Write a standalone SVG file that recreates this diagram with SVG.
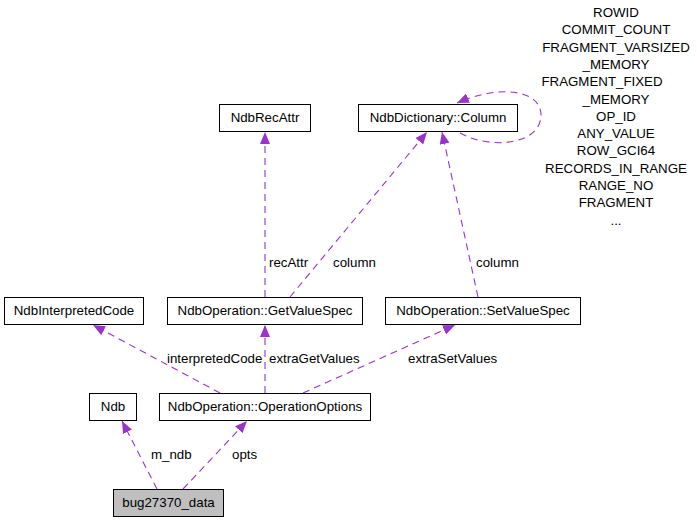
<svg xmlns="http://www.w3.org/2000/svg" width="697" height="523" viewBox="0 0 697 523">
<style>
text{font-family:"Liberation Sans",Arial,sans-serif;font-size:13.3px;fill:#000}
.n rect{fill:#fff;stroke:#000;stroke-width:1}
.n text{text-anchor:middle}
.e path{fill:none;stroke:#9a32cd;stroke-width:1.1;stroke-dasharray:7,5;marker-end:url(#ah)}
.lst{text-anchor:middle}
</style>
<defs>
<marker id="ah" markerUnits="userSpaceOnUse" viewBox="0 0 12 10" refX="12" refY="5" markerWidth="12" markerHeight="10" orient="auto">
<path d="M0,0 L12,5 L0,10 z" fill="#9a32cd" stroke="none"/>
</marker>
</defs>
<rect width="697" height="523" fill="#fff"/>
<g id="edges" class="e">
<path d="M157,489 L122,421"/>
<path d="M183,489 L247,421"/>
<path d="M220,393 L93,325"/>
<path d="M265,393 L265,325"/>
<path d="M303,393 L455,325"/>
<path d="M265,297 L265,132"/>
<path d="M290,297 L427,132"/>
<path d="M478,297 L442,132"/>
<path d="M460,133 C490,150 541,145 541,115 C541,90 500,84 457,103"/>
</g>
<g id="edge-labels">
<text x="151" y="459">m_ndb</text>
<text x="232" y="459">opts</text>
<text x="167" y="363">interpretedCode</text>
<text x="269" y="363">extraGetValues</text>
<text x="408" y="363">extraSetValues</text>
<text x="269" y="267">recAttr</text>
<text x="333" y="267">column</text>
<text x="476" y="267">column</text>
<g class="lst">
<text x="616" y="17">ROWID</text>
<text x="616" y="34.3">COMMIT_COUNT</text>
<text x="616" y="51.6">FRAGMENT_VARSIZED</text>
<text x="616" y="68.9">_MEMORY</text>
<text x="602" y="86.2">FRAGMENT_FIXED</text>
<text x="616" y="103.5">_MEMORY</text>
<text x="616" y="120.8">OP_ID</text>
<text x="616" y="138.1">ANY_VALUE</text>
<text x="616" y="155.4">ROW_GCI64</text>
<text x="616" y="172.7">RECORDS_IN_RANGE</text>
<text x="616" y="190">RANGE_NO</text>
<text x="616" y="207.3">FRAGMENT</text>
<text x="616" y="224.6">...</text>
</g>
</g>
<g id="node-NdbRecAttr" class="n"><rect x="219.5" y="104.5" width="91" height="27"/><text x="265" y="121.5">NdbRecAttr</text></g>
<g id="node-Column" class="n"><rect x="358.5" y="104.5" width="159" height="27"/><text x="438" y="121.5">NdbDictionary::Column</text></g>
<g id="node-GetValueSpec" class="n"><rect x="167.5" y="297.5" width="195" height="27"/><text x="265" y="315">NdbOperation::GetValueSpec</text></g>
<g id="node-SetValueSpec" class="n"><rect x="385.5" y="297.5" width="195" height="27"/><text x="483" y="315">NdbOperation::SetValueSpec</text></g>
<g id="node-NdbInterpretedCode" class="n"><rect x="4.5" y="297.5" width="139" height="27"/><text x="74" y="315">NdbInterpretedCode</text></g>
<g id="node-Ndb" class="n"><rect x="89.5" y="393.5" width="47" height="27"/><text x="113" y="411">Ndb</text></g>
<g id="node-OperationOptions" class="n"><rect x="159.5" y="393.5" width="211" height="27"/><text x="265" y="411">NdbOperation::OperationOptions</text></g>
<g id="node-bug27370_data" class="n"><rect x="113.5" y="489.5" width="110" height="27" style="fill:#bfbfbf"/><text x="168.5" y="507">bug27370_data</text></g>
</svg>
